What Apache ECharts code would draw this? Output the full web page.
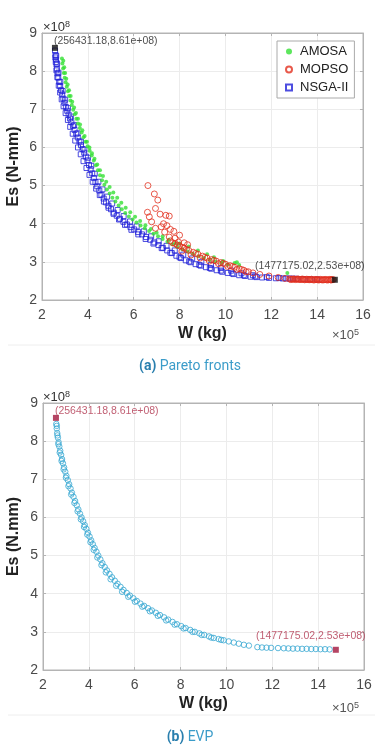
<!DOCTYPE html>
<html>
<head>
<meta charset="utf-8">
<script src="https://cdn.jsdelivr.net/npm/echarts@6/dist/echarts.min.js"></script>
<style>
  html, body { margin: 0; padding: 0; background: #fff; }
  #main { width: 380px; height: 749px; }
</style>
</head>
<body>
<div id="main"></div>
<script>
// tick values (W in 1e5 kg, Es in 1e8 N-mm)
var xTicks = [2, 4, 6, 8, 10, 12, 14, 16];
var yTicks = [2, 3, 4, 5, 6, 7, 8, 9];

var legendNames = ['AMOSA', 'MOPSO', 'NSGA-II'];

// extreme solutions (shown with data tips)
var extremePts = [[2.5643118, 8.61], [14.7717502, 2.53]];
var extremeTips = ['(256431.18,8.61e+08)', '(1477175.02,2.53e+08)'];

// (a) NSGA-II front
var nsgaPts = [
  [2.57,8.54],[2.59,8.42],[2.61,8.30],[2.63,8.18],[2.65,8.06],[2.68,7.94],[2.71,7.83],[2.75,7.72],[2.79,7.61],[2.83,7.50],
  [2.88,7.39],[2.93,7.28],[2.98,7.17],[3.04,7.06],[3.10,6.96],[3.16,6.86],[3.22,6.76],[3.28,6.66],[3.35,6.56],[3.42,6.46],
  [3.49,6.36],[3.56,6.26],[3.63,6.16],[3.70,6.06],[3.77,5.96],[3.84,5.86],[3.91,5.76],[3.98,5.66],[4.05,5.54],[4.12,5.43],
  [4.19,5.32],[4.26,5.20],[4.33,5.09],[4.41,4.98],[4.50,4.87],[4.59,4.76],[4.69,4.66],[4.79,4.56],[4.90,4.47],[5.01,4.38],
  [5.13,4.29],[5.26,4.21],[5.40,4.13],[5.55,4.05],[5.70,3.98],[5.86,3.91],[6.02,3.85],[6.19,3.78],[6.36,3.72],[6.54,3.65],
  [6.72,3.58],[6.90,3.51],[7.08,3.44],[7.27,3.37],[7.46,3.30],[7.66,3.23],[7.86,3.16],[8.06,3.10],[8.27,3.04],[8.48,2.99],
  [8.70,2.94],[8.92,2.90],[9.15,2.86],[9.38,2.82],[9.62,2.78],[9.86,2.74],[10.1,2.71],[10.35,2.68],[10.6,2.65],[10.85,2.63],
  [11.1,2.61],[11.35,2.60],[11.6,2.59],[11.9,2.58],[12.2,2.57],[12.5,2.565],[12.8,2.56],[13.1,2.555],[13.4,2.55],[13.7,2.545],
  [14.0,2.54],
  [2.62,8.40],[2.66,8.20],[2.72,7.96],[2.80,7.72],[2.90,7.48],[3.01,7.25],[3.13,7.03],[3.26,6.81],[3.40,6.59],[3.55,6.37],
  [3.70,6.15],[3.85,5.94],[4.00,5.73],[4.15,5.52],[4.30,5.31],[4.46,5.10],[4.64,4.90],[4.84,4.71],[5.06,4.53],[5.30,4.36],
  [5.56,4.20],[5.84,4.06],[6.13,3.93],[6.44,3.80],[6.76,3.67],[7.09,3.54],[7.43,3.42],[7.79,3.30],[8.16,3.19],[8.55,3.09],
  [8.95,3.00],[9.37,2.92],[9.80,2.84],[10.25,2.77],[10.7,2.70],[11.2,2.65],
  [2.58,8.36],[2.60,8.24],[2.63,8.02],[2.67,7.84],[2.73,7.62],[2.79,7.44],[2.86,7.26],[2.94,7.08],[3.03,6.90],[3.13,6.72],
  [3.23,6.54],[3.34,6.36],[3.45,6.18],[3.57,6.00],[3.69,5.82],[3.81,5.64],[3.94,5.46],[4.07,5.28],[4.21,5.10],[4.36,4.92],
  [4.52,4.75],[4.70,4.58],[4.90,4.42],[5.12,4.26],[5.36,4.11],[5.62,3.97],[5.90,3.84],[6.20,3.72],[6.52,3.60],[6.86,3.48],
  [7.22,3.36],[7.60,3.24],[8.00,3.12],[8.42,3.01],[8.86,2.92],[9.32,2.84],[9.80,2.77],[10.3,2.70],[10.8,2.65],[11.3,2.62],
  [11.8,2.60],[12.35,2.575],[12.65,2.565],[12.95,2.56]
];

// (a) AMOSA front
var amosaPts = [
  [2.87,8.33],[2.89,8.20],[2.92,8.07],[2.95,7.95],[2.99,7.83],[3.03,7.71],[3.08,7.59],[3.13,7.47],[3.18,7.35],[3.24,7.23],
  [3.30,7.11],[3.36,6.99],[3.43,6.87],[3.50,6.75],[3.57,6.63],[3.65,6.51],[3.73,6.39],[3.81,6.27],[3.90,6.15],[3.99,6.03],
  [4.08,5.91],[4.17,5.79],[4.26,5.66],[4.35,5.53],[4.44,5.40],[4.53,5.27],[4.62,5.14],[4.72,5.02],[4.83,4.90],[4.95,4.79],
  [5.07,4.68],[5.20,4.58],[5.34,4.48],[5.48,4.38],[5.63,4.28],[5.79,4.19],[5.95,4.11],[6.12,4.03],[6.30,3.95],[6.48,3.88],
  [6.67,3.81],[6.86,3.74],[7.06,3.67],[7.26,3.60],[7.47,3.53],[7.68,3.46],[7.90,3.39],[8.12,3.33],[8.35,3.27],[8.58,3.21],
  [8.82,3.15],[9.06,3.10],[9.31,3.05],[9.56,3.01],[9.82,2.97],[10.1,2.93],[10.40,2.97],[10.50,2.99],[10.60,2.92],[12.7,2.71],
  [8.0,3.48],[8.4,3.40],[8.8,3.30],[9.2,3.20],[9.5,3.12],[9.9,3.02],
  [2.93,8.27],[2.97,8.10],[3.01,7.95],[3.06,7.80],[3.12,7.65],[3.18,7.50],[3.25,7.35],[3.32,7.20],[3.40,7.05],[3.48,6.90],
  [3.57,6.75],[3.66,6.60],[3.76,6.45],[3.86,6.30],[3.96,6.15],[4.07,6.00],[4.18,5.85],[4.29,5.70],[4.41,5.55],[4.53,5.40],
  [4.66,5.25],[4.80,5.10],[4.95,4.96],[5.11,4.82],[5.28,4.68],[5.46,4.55],[5.65,4.42],[5.85,4.30],[6.06,4.18],[6.28,4.07],
  [6.51,3.96],[6.75,3.86],[7.00,3.76],[7.26,3.67],[7.53,3.58],[7.81,3.49]
];

// (a) MOPSO front
var mopsoPts = [
  [6.62,5.00],[6.90,4.78],[7.05,4.62],[6.95,4.40],[6.60,4.30],[6.68,4.18],[6.78,4.05],[7.15,4.25],[7.40,4.22],[7.55,4.20],
  [6.95,3.88],[7.20,3.92],[7.30,4.00],[7.45,3.95],[7.35,3.78],[7.60,3.85],[7.75,3.80],[7.55,3.65],[7.80,3.62],[8.00,3.70],
  [7.95,3.52],[8.20,3.50],[8.35,3.45],[8.15,3.38],
  [7.6,3.55],[7.8,3.48],[8.0,3.42],[8.2,3.36],[8.4,3.30],[8.6,3.25],[8.8,3.20],[9.0,3.15],[9.2,3.10],[9.4,3.06],
  [9.6,3.02],[9.8,2.98],[10.0,2.94],[10.2,2.90],[10.4,2.86],[10.6,2.82],[10.8,2.78],[11.0,2.74],[11.2,2.71],[11.5,2.67],
  [11.9,2.63],[12.3,2.59],[12.6,2.565],[12.8,2.555],[13.0,2.55],[13.2,2.545],[13.4,2.54],[13.6,2.54],[13.8,2.535],[14.0,2.535],
  [14.2,2.53],[14.4,2.53],[14.6,2.53],
  [8.1,3.28],[8.5,3.18],[8.9,3.10],[9.3,3.02],[9.7,2.95],[10.1,2.88],[10.5,2.80],[10.9,2.74],[12.9,2.545],[13.1,2.545],
  [13.3,2.54],[13.5,2.535],[13.7,2.535],[13.9,2.53],[14.1,2.53],[14.3,2.53],[14.5,2.53],[14.65,2.53],
  [7.7,3.50],[7.9,3.44],[8.3,3.33],[8.7,3.22],[9.1,3.12],[9.5,3.04],[9.9,2.96],[10.3,2.88],[10.7,2.80],
  [12.85,2.535],[12.95,2.55],[13.05,2.535],[13.15,2.55],[13.25,2.535],[13.35,2.55],[13.45,2.53],[13.55,2.545],[13.65,2.53],[13.75,2.545],
  [13.85,2.525],[13.95,2.54],[14.05,2.525],[14.15,2.54],[14.25,2.525],[14.35,2.54],[14.45,2.525],[14.55,2.54],[14.6,2.525],[14.7,2.535]
];

// (b) EVP front
var evpPts = [
  [2.58,8.45],[2.60,8.33],[2.62,8.21],[2.65,8.09],[2.68,7.97],[2.71,7.86],[2.75,7.75],[2.79,7.64],[2.83,7.53],[2.87,7.42],
  [2.92,7.31],[2.97,7.20],[3.02,7.09],[3.08,6.98],[3.14,6.87],[3.20,6.76],[3.26,6.65],[3.33,6.54],[3.40,6.43],[3.47,6.32],
  [3.54,6.21],[3.61,6.10],[3.68,6.00],[3.75,5.90],[3.82,5.80],[3.89,5.70],[3.96,5.60],[4.03,5.50],[4.10,5.40],[4.17,5.30],
  [4.25,5.20],[4.33,5.10],[4.41,5.00],[4.50,4.90],[4.59,4.80],[4.69,4.70],[4.79,4.61],[4.90,4.52],[5.01,4.43],[5.13,4.34],
  [5.25,4.26],[5.38,4.18],[5.51,4.10],[5.65,4.02],[5.79,3.95],[5.94,3.88],[6.09,3.81],[6.25,3.74],[6.41,3.68],[6.58,3.62],
  [6.75,3.56],[6.92,3.50],[7.10,3.44],[7.28,3.38],[7.46,3.32],[7.65,3.26],[7.84,3.20],[8.03,3.15],[8.22,3.10],[8.42,3.05],
  [8.62,3.00],[8.82,2.96],[9.03,2.92],[9.24,2.88],[9.45,2.84],[9.66,2.81],[9.88,2.78],[10.1,2.75],[10.32,2.72],[10.54,2.69],
  [10.76,2.66],[10.98,2.64],[11.35,2.60],[11.55,2.59],[11.75,2.585],[11.95,2.58],[12.25,2.575],[12.5,2.57],[12.7,2.565],[12.9,2.56],
  [13.1,2.56],[13.3,2.555],[13.5,2.555],[13.7,2.55],[13.9,2.55],[14.1,2.545],[14.3,2.545],[14.5,2.54],
  [2.60,8.40],[2.63,8.15],[2.67,7.92],[2.73,7.70],[2.81,7.48],[2.90,7.26],[3.00,7.04],[3.11,6.82],[3.23,6.60],[3.37,6.38],
  [3.51,6.16],[3.65,5.95],[3.79,5.75],[3.93,5.55],[4.07,5.35],[4.21,5.15],[4.37,4.95],[4.55,4.75],[4.74,4.56],[4.95,4.38],
  [5.19,4.21],[5.45,4.05],[5.72,3.92],[6.01,3.79],[6.33,3.66],[6.66,3.54],[7.01,3.42],[7.37,3.30],[7.74,3.19],[8.13,3.09],
  [8.52,3.00],[8.92,2.92],[9.34,2.85],[9.77,2.79]
];

var chart = echarts.init(document.getElementById('main'), null, { renderer: 'canvas' });

var baseFont = '"Liberation Sans", Arial, sans-serif';
var gridColor = '#ececec';
var boxColor = '#b4b4b4';

function valAxis(gridIndex, ticks, pos, withLabels, name, nameGap) {
  var ax = {
    type: 'value',
    gridIndex: gridIndex,
    position: pos,
    min: ticks[0],
    max: ticks[ticks.length - 1],
    interval: ticks[1] - ticks[0],
    axisLine: { show: true, onZero: false, lineStyle: { color: boxColor, width: 1 } },
    axisTick: { show: true, inside: true, length: 3, lineStyle: { color: boxColor } },
    axisLabel: { show: withLabels, color: '#4a4a4a', fontSize: 14, fontFamily: baseFont, margin: pos === 'left' ? 5 : 8 },
    splitLine: { show: withLabels, lineStyle: { color: gridColor, width: 1 } }
  };
  if (name) {
    ax.name = name;
    ax.nameLocation = 'middle';
    ax.nameGap = nameGap;
    ax.nameMoveOverlap = false;
    ax.nameTextStyle = { color: '#222', fontSize: 16, fontWeight: 'bold', fontFamily: baseFont };
  }
  return ax;
}

function tipSeries(xi, yi, color, fontSize, labelColor) {
  return {
    type: 'scatter',
    xAxisIndex: xi,
    yAxisIndex: yi,
    symbol: 'rect',
    symbolSize: 6,
    itemStyle: { color: color },
    z: 5,
    data: [
      { value: extremePts[0], label: { show: true, position: 'right', offset: [-9, -7], formatter: extremeTips[0] } },
      { value: extremePts[1], label: { show: true, position: 'top', offset: [-25, 0], formatter: extremeTips[1] } }
    ],
    label: { color: labelColor, fontSize: fontSize, fontFamily: baseFont }
  };
}

var option = {
  backgroundColor: '#fff',
  animation: false,
  grid: [
    { left: 42, top: 33, width: 321, height: 267, outerBoundsMode: 'none', show: true, borderColor: boxColor, borderWidth: 1 },
    { left: 43, top: 403, width: 321, height: 267, outerBoundsMode: 'none', show: true, borderColor: boxColor, borderWidth: 1 }
  ],
  xAxis: [
    valAxis(0, xTicks, 'bottom', true, 'W (kg)', 26),
    valAxis(0, xTicks, 'top', false),
    valAxis(1, xTicks, 'bottom', true, 'W (kg)', 26),
    valAxis(1, xTicks, 'top', false)
  ],
  yAxis: [
    valAxis(0, yTicks, 'left', true, 'Es (N-mm)', 20),
    valAxis(0, yTicks, 'right', false),
    valAxis(1, yTicks, 'left', true, 'Es (N.mm)', 21),
    valAxis(1, yTicks, 'right', false)
  ],
  legend: {
    data: legendNames,
    orient: 'vertical',
    left: 277,
    top: 41,
    padding: [4, 6, 4, 8],
    itemGap: 5,
    itemWidth: 6,
    itemHeight: 6,
    borderColor: '#aaa',
    borderWidth: 1,
    backgroundColor: '#fff',
    textStyle: { color: '#222', fontSize: 13, fontFamily: baseFont, padding: [0, 0, 0, 3] }
  },
  graphic: [
    { type: 'text', left: 43, top: 20, style: { text: '×10{s|8}', fill: '#333', font: '13px ' + baseFont, rich: { s: { fontSize: 9, padding: [0, 0, 6, 0] } } } },
    { type: 'text', left: 332, top: 328, style: { text: '×10{s|5}', fill: '#555', font: '13px ' + baseFont, rich: { s: { fontSize: 9, padding: [0, 0, 6, 0] } } } },
    { type: 'text', left: 43, top: 390, style: { text: '×10{s|8}', fill: '#333', font: '13px ' + baseFont, rich: { s: { fontSize: 9, padding: [0, 0, 6, 0] } } } },
    { type: 'text', left: 332, top: 701, style: { text: '×10{s|5}', fill: '#555', font: '13px ' + baseFont, rich: { s: { fontSize: 9, padding: [0, 0, 6, 0] } } } },
    { type: 'line', shape: { x1: 8, y1: 345, x2: 375, y2: 345 }, style: { stroke: '#eeeeee', lineWidth: 1 } },
    { type: 'line', shape: { x1: 8, y1: 715, x2: 375, y2: 715 }, style: { stroke: '#eeeeee', lineWidth: 1 } },
    { type: 'text', left: 'center', top: 359, style: { text: '{b|(a)} {n|Pareto fronts}', rich: {
        b: { fontWeight: 'bold', fill: '#2a7fae', fontSize: 14, fontFamily: 'Roboto' },
        n: { fill: '#3b9cc9', fontSize: 14, fontFamily: 'Roboto' } } } },
    { type: 'text', left: 'center', top: 730, style: { text: '{b|(b)} {n|EVP}', rich: {
        b: { fontWeight: 'bold', fill: '#2a7fae', fontSize: 14, fontFamily: 'Roboto' },
        n: { fill: '#3b9cc9', fontSize: 14, fontFamily: 'Roboto' } } } }
  ],
  series: [
    {
      name: 'NSGA-II', type: 'scatter', xAxisIndex: 0, yAxisIndex: 0,
      symbol: 'rect', symbolSize: 5,
      itemStyle: { color: 'rgba(0,0,0,0)', borderColor: '#2020d8', borderWidth: 1 },
      data: nsgaPts
    },
    {
      name: 'AMOSA', type: 'scatter', xAxisIndex: 0, yAxisIndex: 0,
      symbol: 'circle', symbolSize: 4,
      itemStyle: { color: '#35e035' },
      data: amosaPts
    },
    {
      name: 'MOPSO', type: 'scatter', xAxisIndex: 0, yAxisIndex: 0,
      symbol: 'circle', symbolSize: 6,
      itemStyle: { color: 'rgba(0,0,0,0)', borderColor: '#e2301e', borderWidth: 1 },
      data: mopsoPts
    },
    tipSeries(0, 0, '#111', 10.5, '#222'),
    {
      name: 'EVP', type: 'scatter', xAxisIndex: 2, yAxisIndex: 2,
      symbol: 'circle', symbolSize: 5.5,
      itemStyle: { color: 'rgba(0,0,0,0)', borderColor: '#37a7d2', borderWidth: 1 },
      data: evpPts
    },
    tipSeries(2, 2, '#a3173d', 10.5, '#b0364f')
  ]
};

chart.setOption(option);
</script>
</body>
</html>
